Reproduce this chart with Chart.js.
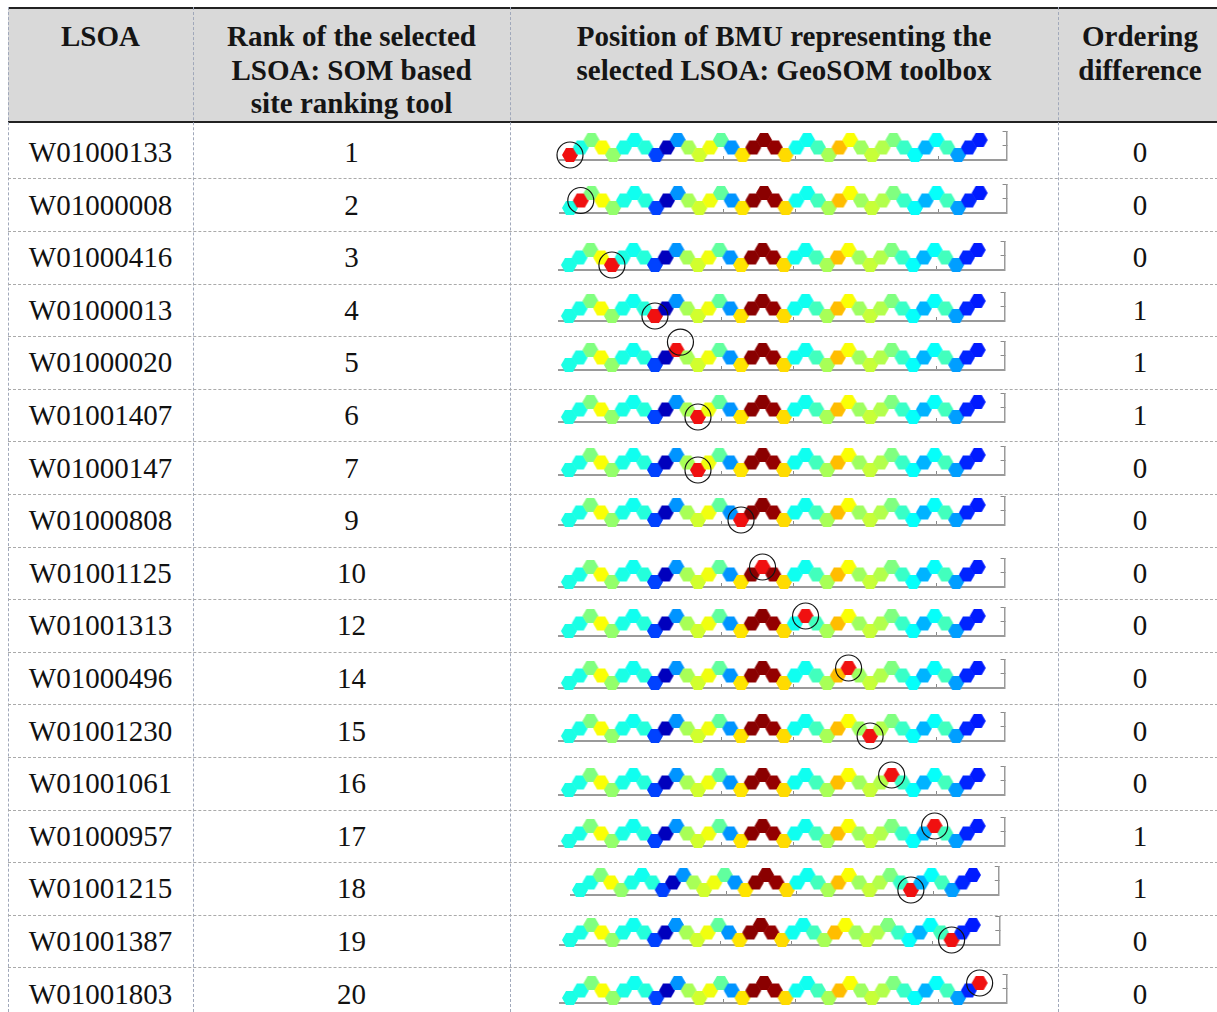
<!DOCTYPE html>
<html>
<head>
<meta charset="utf-8">
<script src="https://cdn.jsdelivr.net/npm/chart.js@4"></script>
<style>
html,body{margin:0;padding:0;background:#fff;}
#page{position:relative;width:1217px;height:1012px;overflow:hidden;font-family:"Liberation Serif","Times New Roman",serif;color:#111;}
.hdr{position:absolute;left:8px;top:7px;width:1215px;height:112px;background:#d9d9d9;border-top:2px solid #222;border-bottom:2px solid #222;}
.htxt{position:absolute;top:20px;font-weight:bold;font-size:29px;line-height:33.5px;text-align:center;color:#151515;}
.vline{position:absolute;top:7px;height:1010px;width:0;border-left:1px dashed #a0a8ba;}
.hline{position:absolute;left:8px;width:1215px;height:0;border-top:1px dashed #aaaaaa;}
.cell{position:absolute;font-size:29px;line-height:30px;text-align:center;white-space:nowrap;}
.strip{position:absolute;}
</style>
</head>
<body>
<div id="page">
  <div class="hdr"></div>
  <div class="htxt" style="left:8px;width:185px;">LSOA</div>
  <div class="htxt" style="left:193px;width:317px;">Rank of the selected<br>LSOA: SOM based<br>site ranking tool</div>
  <div class="htxt" style="left:510px;width:548px;">Position of BMU representing the<br>selected LSOA: GeoSOM toolbox</div>
  <div class="htxt" style="left:1058px;width:164px;">Ordering<br>difference</div>
</div>
<script>
// ---------------- data ----------------
const lsoaCodes = ['W01000133','W01000008','W01000416','W01000013','W01000020','W01001407','W01000147','W01000808','W01001125','W01001313','W01000496','W01001230','W01001061','W01000957','W01001215','W01001387','W01001803'];
const somRanks = [1,2,3,4,5,6,7,9,10,12,14,15,16,17,18,19,20];
const orderingDiff = [0,0,0,1,1,1,0,0,0,0,0,0,0,1,1,0,0];
// index of the best matching unit (node) along the GeoSOM chain, per LSOA
const bmuNode = [0,1,4,8,10,12,12,16,18,22,26,28,30,34,32,36,38];
// lattice row of each node of the chain (0 = bottom)
const nodeRow = [0,1,2,1,0,1,2,1,0,1,2,1,0,1,2,1,0,1,2,1,0,1,2,1,0,1,2,1,0,1,2,1,0,1,2,1,0,1,2];
// component-plane value of each node (jet colour scale, 0..1)
const nodeValue = [0.40,0.40,0.50,0.62,0.52,0.40,0.39,0.41,0.19,0.06,0.27,0.54,0.58,0.61,0.47,0.27,0.65,0.99,0.99,0.98,0.66,0.39,0.39,0.44,0.54,0.69,0.62,0.53,0.57,0.55,0.50,0.43,0.38,0.30,0.38,0.44,0.28,0.16,0.15];
// circle marker offsets (data units) relative to the BMU
const circleDx = [0,0,0,0,0.37,0,0,0,0,0,0,0,0,0,0,0,0];
const circleDy = [0,0,0,0,1.05,0,0,0,0,0,0,0,0,0,0,0,0];
const xTickValues = [0.45, 7.6, 14.2, 20.9, 27.6, 34.2];
const yTickValues = [1.2, 3.07];

// ---------------- layout (positions only) ----------------
const ROW0 = 152, ROWH = 52.6;
const stripDy   = [3,3,8,6,3,2,2,0,9,6,5,5,7,5,2,-1,4];
const stripLeft = [570,570,568,568,568,568,568,568,568,568,568,568,568,568,580,570,570];
const stripStep = [10.78,10.78,10.78,10.78,10.78,10.78,10.78,10.78,10.78,10.78,10.78,10.78,10.78,10.78,10.34,10.6,10.78];
const CANVAS_LEFT = 545, CANVAS_W = 480, CANVAS_H = 66, AXIS_Y = 50;
const X_MIN = -0.9, X_MAX = 40.5, Y_MIN = -0.667, Y_MAX = 3.07, ROW_PX = 7.5;
const HEX_R = 8.0;
const BMU_COLOR = '#f01010';

const page = document.getElementById('page');
function add(cls, style, html){
  const d = document.createElement('div');
  d.className = cls; d.setAttribute('style', style);
  if (html !== undefined) d.textContent = html;
  page.appendChild(d); return d;
}
[8,193,510,1058].forEach(x => add('vline', 'left:'+x+'px;'));
for (let k = 0; k < lsoaCodes.length - 1; k++) {
  add('hline', 'top:' + (ROW0 + ROWH*k + 26.3).toFixed(1) + 'px;');
}

function jet(v){
  const c = t => Math.max(0, Math.min(1, t));
  const r = c(1.5 - Math.abs(4*v - 3)), g = c(1.5 - Math.abs(4*v - 2)), b = c(1.5 - Math.abs(4*v - 1));
  const h = t => Math.round(t*255).toString(16).padStart(2,'0');
  return '#' + h(r) + h(g) + h(b);
}
const hexCache = {};
function hexImg(color){
  if (hexCache[color]) return hexCache[color];
  const r = HEX_R, s = Math.ceil(2*r) + 2;
  const cv = document.createElement('canvas');
  cv.width = s; cv.height = s;
  const g = cv.getContext('2d');
  g.fillStyle = color;
  g.beginPath();
  for (let i = 0; i < 6; i++) {
    const a = Math.PI/3*i;
    const px = s/2 + r*Math.cos(a), py = s/2 + r*Math.sin(a);
    if (i === 0) g.moveTo(px, py); else g.lineTo(px, py);
  }
  g.closePath(); g.fill();
  hexCache[color] = cv;
  return cv;
}

lsoaCodes.forEach((code, k) => {
  const yc = ROW0 + ROWH*k;
  add('cell', 'left:8px;width:185px;top:' + (yc-15).toFixed(1) + 'px;', code);
  add('cell', 'left:193px;width:317px;top:' + (yc-15).toFixed(1) + 'px;', String(somRanks[k]));
  add('cell', 'left:1058px;width:164px;top:' + (yc-15).toFixed(1) + 'px;', String(orderingDiff[k]));

  const r0 = yc + stripDy[k];
  const wrap = add('strip', 'left:' + CANVAS_LEFT + 'px;top:' + (r0 + 5 - AXIS_Y).toFixed(1) + 'px;width:' + CANVAS_W + 'px;height:' + CANVAS_H + 'px;');
  const cv = document.createElement('canvas');
  cv.width = CANVAS_W; cv.height = CANVAS_H;
  cv.style.width = CANVAS_W + 'px'; cv.style.height = CANVAS_H + 'px';
  wrap.appendChild(cv);

  const step = stripStep[k];
  const areaLeft = stripLeft[k] + X_MIN*step - CANVAS_LEFT;
  const areaW = (X_MAX - X_MIN)*step;
  const padRight = CANVAS_W - 6 - areaLeft - areaW;
  const areaTop = AXIS_Y - (Y_MAX - Y_MIN)*ROW_PX;
  const padBottom = CANVAS_H - AXIS_Y - 6;

  const bmu = bmuNode[k];
  const nodes = nodeRow.map((row, i) => ({x: i, y: row}));
  const colors = nodeValue.map((v, i) => i === bmu ? BMU_COLOR : jet(v));

  new Chart(cv, {
    type: 'scatter',
    data: {
      datasets: [
        {
          data: [{x: bmu + circleDx[k], y: nodeRow[bmu] + circleDy[k]}],
          pointStyle: 'circle', pointRadius: 13, pointHoverRadius: 13,
          backgroundColor: 'rgba(0,0,0,0)', borderColor: '#151515', borderWidth: 1.2,
          clip: false
        },
        {
          data: nodes,
          pointStyle: ctx => hexImg(colors[ctx.dataIndex]),
          pointRadius: 7, pointHoverRadius: 7,
          clip: false
        }
      ]
    },
    options: {
      responsive: false, animation: false, events: [],
      devicePixelRatio: 1,
      layout: {padding: {left: areaLeft, right: padRight, top: areaTop, bottom: padBottom}},
      plugins: {legend: {display: false}, tooltip: {enabled: false}},
      scales: {
        x: {
          type: 'linear', position: 'bottom', min: X_MIN, max: X_MAX,
          ticks: {display: false},
          grid: {display: true, drawOnChartArea: false, drawTicks: true, tickLength: -4, color: '#8a8a8a', lineWidth: 1},
          border: {display: true, color: '#9a9a9a', width: 2},
          afterBuildTicks: s => { s.ticks = xTickValues.map(v => ({value: v})); },
          afterFit: s => { s.height = 6; }
        },
        y: {
          type: 'linear', position: 'right', min: Y_MIN, max: Y_MAX,
          ticks: {display: false},
          grid: {display: true, drawOnChartArea: false, drawTicks: true, tickLength: -4, color: '#8a8a8a', lineWidth: 1},
          border: {display: true, color: '#9a9a9a', width: 1.5},
          afterBuildTicks: s => { s.ticks = yTickValues.map(v => ({value: v})); },
          afterFit: s => { s.width = 6; }
        }
      }
    }
  });
});
</script>
</body>
</html>
